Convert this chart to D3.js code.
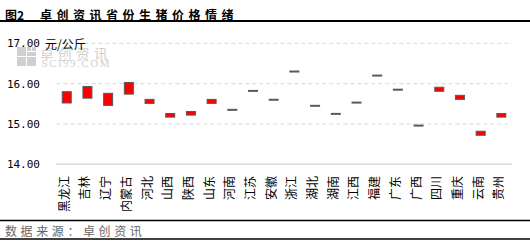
<!DOCTYPE html>
<html>
<head>
<meta charset="utf-8">
<script src="https://cdn.jsdelivr.net/npm/d3@7"></script>
<style>
  html, body { margin: 0; padding: 0; background: #fff; }
  svg { display: block; }
</style>
</head>
<body>
<script>
// Provinces on the x axis
const provinces = ["黑龙江","吉林","辽宁","内蒙古","河北","山西","陕西","山东","河南","江苏","安徽",
  "浙江","湖北","湖南","江西","福建","广东","广西","四川","重庆","云南","贵州"];
// Price range per province (元/公斤); equal ends mean an unchanged price
const rangeLow  = [15.52,15.64,15.46,15.74,15.51,15.17,15.22,15.51,15.35,15.82,15.60,
  16.30,15.45,15.25,15.53,16.20,15.85,14.96,15.81,15.61,14.72,15.17];
const rangeHigh = [15.80,15.93,15.76,16.03,15.61,15.26,15.31,15.61,15.35,15.82,15.60,
  16.30,15.45,15.25,15.53,16.20,15.85,14.96,15.91,15.71,14.82,15.26];
const yTicks = [14, 15, 16, 17];
const titleNo = "图2";
const titleText = "卓创资讯省份生猪价格情绪";
const unitText = "元/公斤";
const sourceText = "数据来源：卓创资讯";

const W = 530, H = 245;
const svg = d3.select("body").append("svg").attr("width", W).attr("height", H);
const cjk = "'Noto Sans CJK SC', 'Noto Sans', sans-serif";

// Title and rule
svg.append("text").attr("x", 5).attr("y", 14).attr("dominant-baseline", "central")
  .attr("font-family", cjk).attr("font-size", 12).attr("font-weight", "bold")
  .attr("fill", "#000").text(titleNo);
svg.append("text").attr("x", 40).attr("y", 14).attr("dominant-baseline", "central")
  .attr("font-family", cjk).attr("font-size", 12).attr("font-weight", "bold")
  .attr("letter-spacing", 4.5).attr("fill", "#000").text(titleText);
svg.append("line").attr("x1", 0).attr("x2", W).attr("y1", 21).attr("y2", 21)
  .attr("stroke", "#000").attr("stroke-width", 2);

// Scales
const x = d3.scaleBand().domain(provinces).range([56.4, 511.7]).padding(0);
const y = d3.scaleLinear().domain([14, 17]).range([164.3, 43.3]);

// Watermark
const wm = svg.append("g").attr("fill", "#d0d0d0");
[[17,47,9,9],[27,47,4,4],[32,47,4,4],[27,52,9,4],[17,57,9,9],[27,57,9,9]].forEach(r =>
  wm.append("rect").attr("x", r[0]).attr("y", r[1]).attr("width", r[2]).attr("height", r[3]));
wm.append("text").attr("x", 40).attr("y", 52.5).attr("dominant-baseline", "central")
  .attr("font-family", cjk).attr("font-size", 13.5).attr("letter-spacing", 4.5).text("卓创资讯");
wm.append("text").attr("x", 41.5).attr("y", 62.5).attr("dominant-baseline", "central")
  .attr("font-family", "'Liberation Serif', serif").attr("font-size", 11)
  .attr("letter-spacing", 1.5).text("SCI99.COM");

// Gridlines
svg.append("g").selectAll("line").data(yTicks.filter(t => t > 14)).join("line")
  .attr("x1", 56.4).attr("x2", 511.7)
  .attr("y1", d => y(d)).attr("y2", d => y(d))
  .attr("stroke", "#d9d9d9").attr("stroke-width", 1).attr("stroke-dasharray", "4,3");
svg.append("line").attr("x1", 56.4).attr("x2", 511.7).attr("y1", y(14)).attr("y2", y(14))
  .attr("stroke", "#d9d9d9").attr("stroke-width", 1.5);

// Y axis labels
const yAxis = d3.axisLeft(y).tickValues(yTicks).tickFormat(d3.format(".2f")).tickSize(0).tickPadding(0);
const gy = svg.append("g").attr("transform", "translate(40,0)").call(yAxis);
gy.select(".domain").remove();
gy.selectAll("text").attr("font-family", "'DejaVu Sans Mono', monospace")
  .attr("font-size", 11).attr("fill", "#000");
svg.append("text").attr("x", 45).attr("y", y(17) + 0.5).attr("dominant-baseline", "central")
  .attr("font-family", cjk).attr("font-size", 12).attr("fill", "#000").text(unitText);

// Range bars
const bw = 9;
const marks = svg.append("g");
provinces.forEach((p, i) => {
  const cx = x(p) + x.bandwidth() / 2;
  const lo = rangeLow[i], hi = rangeHigh[i];
  if (hi > lo) {
    marks.append("rect").attr("x", cx - bw / 2).attr("y", y(hi))
      .attr("width", bw).attr("height", y(lo) - y(hi))
      .attr("fill", "#ff0000").attr("stroke", "#595959").attr("stroke-width", 1);
  } else {
    marks.append("line").attr("x1", cx - bw / 2 - 0.5).attr("x2", cx + bw / 2 + 0.5)
      .attr("y1", y(lo)).attr("y2", y(lo))
      .attr("stroke", "#595959").attr("stroke-width", 2);
  }
});

// Category labels (rotated)
svg.append("g").selectAll("text").data(provinces).join("text")
  .attr("transform", d => `translate(${x(d) + x.bandwidth() / 2 - 3.5},176) rotate(-90)`)
  .attr("text-anchor", "end").attr("dominant-baseline", "central")
  .attr("font-family", cjk).attr("font-size", 12).attr("fill", "#000")
  .text(d => d);

// Source footer
svg.append("line").attr("x1", 0).attr("x2", W).attr("y1", 220.5).attr("y2", 220.5)
  .attr("stroke", "#000").attr("stroke-width", 1.5);
svg.append("text").attr("x", 5).attr("y", 230).attr("dominant-baseline", "central")
  .attr("font-family", cjk).attr("font-size", 12).attr("letter-spacing", 3.6)
  .attr("fill", "#666").text(sourceText);
svg.append("line").attr("x1", 0).attr("x2", W).attr("y1", 239).attr("y2", 239)
  .attr("stroke", "#000").attr("stroke-width", 1.5);
</script>
</body>
</html>
